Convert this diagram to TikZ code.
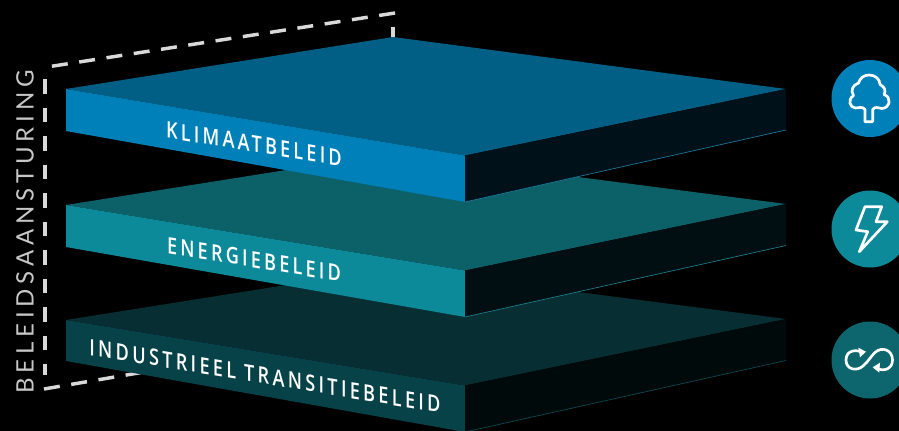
\documentclass[tikz,border=0pt]{standalone}
\usepackage{fontspec}
\setmainfont{Open Sans}
\newfontfamily\lab[LetterSpace=14,FakeStretch=0.8]{Open Sans Semibold}
\newfontfamily\ilab[LetterSpace=14.5,FakeStretch=0.8]{Open Sans Semibold}
\newfontfamily\side[LetterSpace=20]{Lato}
\definecolor{topa}{HTML}{015F86}\definecolor{fronta}{HTML}{0080B8}\definecolor{sidea}{HTML}{01111A}\definecolor{linea}{HTML}{1C7A9C}
\definecolor{topb}{HTML}{0C6068}\definecolor{frontb}{HTML}{0D8A99}\definecolor{sideb}{HTML}{010F12}\definecolor{lineb}{HTML}{1C7F8C}
\definecolor{topc}{HTML}{072F33}\definecolor{frontc}{HTML}{074248}\definecolor{sidec}{HTML}{000A0B}\definecolor{linec}{HTML}{0E4B52}
\definecolor{circc}{HTML}{0D666E}
\tikzset{
  frame/.style={draw=black!15,line width=2.6pt,dash pattern=on 12pt off 8.7pt},
  framev/.style={draw=black!15,line width=2.6pt,dash pattern=on 11pt off 10.4pt},
  sliced/.style={text=white,yslant=-0.165,transform shape,inner sep=0pt},
  icon/.style={draw=white,line width=2pt,line join=round,line cap=round},
  badge/.style={circle,minimum size=57.75pt,inner sep=0pt},
}
\begin{document}
\begin{tikzpicture}[x=0.75pt,y=-0.75pt]
\fill[black,use as bounding box] (0,0) rectangle (899,431);
\clip (0,0) rectangle (899,431);
% frame
\coordinate (ta) at (395,13);
\coordinate (tb) at (47,67);
\coordinate (tc) at (393,27);
\coordinate (td) at (393,37);
\coordinate (la) at (45,79);
\coordinate (lb) at (45,375);
\coordinate (ba) at (44,389);
\coordinate (bb) at (150,371);
\draw[frame] (ta) -- (tb);
\draw[line width=2.6pt,draw=black!15] (tc) -- (td);
\draw[framev] (la) -- (lb);
\draw[frame] (ba) -- (bb);
\node[rotate=90,text=black!22,inner sep=0pt,font=\fontsize{18pt}{20pt}\side] (title) at (25,232) {BELEIDSAANSTURING};
% slab 3
\fill[topc] (66,320) -- (393,268) -- (786,319) -- (465,385.5) -- cycle;
\fill[frontc] (66,320) -- (465,385.5) -- (465,432) -- (66,361) -- cycle;
\fill[sidec] (465,385.5) -- (786,319) -- (786,360.5) -- (465,432) -- cycle;
\draw[linec,line width=.5pt] (465,432) -- (786,360.5);
\node[sliced,font=\fontsize{17pt}{18pt}\ilab] (c) at (265,376) {INDUSTRIEEL TRANSITIEBELEID};
% slab 2
\fill[topb] (66,205) -- (393,153) -- (786,204) -- (465,270.5) -- cycle;
\fill[frontb] (66,205) -- (465,270.5) -- (465,317) -- (66,247) -- cycle;
\fill[sideb] (465,270.5) -- (786,204) -- (786,245.5) -- (465,317) -- cycle;
\draw[lineb,line width=.5pt] (465,317) -- (786,245.5);
\node[sliced,font=\fontsize{17pt}{18pt}\lab] (b) at (254,259.5) {ENERGIEBELEID};
% slab 1
\fill[topa] (66,89) -- (393,37) -- (786,89) -- (465,155.5) -- cycle;
\fill[fronta] (66,89) -- (465,155.5) -- (465,202) -- (66,131) -- cycle;
\fill[sidea] (465,155.5) -- (786,89) -- (786,130) -- (465,202) -- cycle;
\draw[linea,line width=.5pt] (465,202) -- (786,130);
\node[sliced,font=\fontsize{17pt}{18pt}\lab] (a) at (254,144) {KLIMAATBELEID};
% badges
\node[badge,fill=fronta] (tree) at (870,98.5) {};
\node[badge,fill=frontb] (bolt) at (870,229) {};
\node[badge,fill=circc] (loop) at (870,360) {};
% tree
\draw[icon] (865,109.5) -- (865,121.7) -- (872.7,121.7) -- (872.7,109.5)
  .. controls (875,106) and (878,108) .. (882,108.5)
  .. controls (890,108) and (892,97) .. (884,94.5)
  .. controls (886,91) and (885,87) .. (880,84.5)
  .. controls (880,79) and (875,75) .. (869,75)
  .. controls (864,75) and (860,78) .. (858.5,83)
  .. controls (853,85) and (850,90) .. (853.5,95.5)
  .. controls (847,100) and (850,108) .. (855.5,108)
  .. controls (859,108) and (862,106) .. (865,109.5);
% bolt
\draw[icon] (865,206.7) -- (881.7,206.7) -- (876,221.7) -- (887.3,221.7) -- (859.3,251.7) -- (867.7,231.7) -- (856,230) -- cycle;
% loop
\draw[icon,line cap=butt] (861,352)
  .. controls (858,350) and (846,349) .. (846,360)
  .. controls (846,370) and (857,371.5) .. (863,366)
  .. controls (868,362) and (871,356) .. (875,352.5)
  .. controls (882,346) and (892.5,350) .. (892.5,360)
  .. controls (892.5,370) and (882,372) .. (876,367.5);
\fill[white] (858.3,347.7) -- (866,351.7) -- (860,357.3) -- cycle;
\fill[white] (880,362.7) -- (872.7,367.3) -- (879.3,372.7) -- cycle;
\end{tikzpicture}
\end{document}
